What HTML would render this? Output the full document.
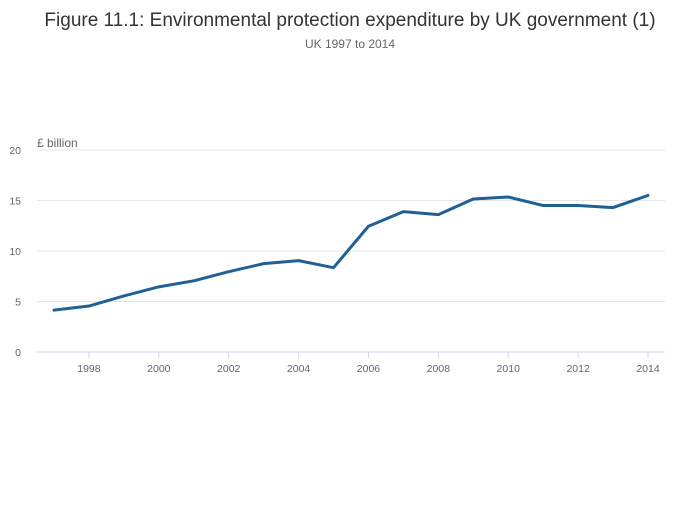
<!DOCTYPE html>
<html><head><meta charset="utf-8"><style>
body{margin:0;background:#fff;font-family:"Liberation Sans",sans-serif;}
svg text{font-family:"Liberation Sans",sans-serif;}
</style></head><body>
<svg id="chart" width="700" height="502" xmlns="http://www.w3.org/2000/svg">
<text x="350" y="26" text-anchor="middle" font-size="19" fill="#333">Figure 11.1: Environmental protection expenditure by UK government (1)</text>
<text x="350" y="48" text-anchor="middle" font-size="12" fill="#666">UK 1997 to 2014</text>
<text x="37" y="147" font-size="12" fill="#666">£ billion</text>
<g id="grid"></g><g id="xaxis"></g><g id="series"></g>
</svg>
<script>
const years=[1997,1998,1999,2000,2001,2002,2003,2004,2005,2006,2007,2008,2009,2010,2011,2012,2013,2014];
const values=[4.15,4.55,5.55,6.45,7.05,7.95,8.75,9.05,8.35,12.45,13.9,13.6,15.15,15.35,14.5,14.5,14.3,15.5];
const yTicks=[0,5,10,15,20];
const xTicks=[1998,2000,2002,2004,2006,2008,2010,2012,2014];
const NS="http://www.w3.org/2000/svg";
const x=v=>54+(v-1997)*(648-54)/17;
const y=v=>352-v*10.1;
function mk(t,a,p){const e=document.createElementNS(NS,t);for(const k in a)e.setAttribute(k,a[k]);p.appendChild(e);return e;}
const g=document.getElementById('grid');
yTicks.forEach(t=>{
 const l=mk('line',{x1:37,x2:665,y1:y(t),y2:y(t),stroke:t===0?'#ccd6eb':'#e6e6e6','stroke-width':1},g);
 
 
 const tx=mk('text',{x:21,y:y(t)+4,'text-anchor':'end','font-size':10.5,fill:'#666'},g);tx.textContent=t;
 
 
});
const xa=document.getElementById('xaxis');
xTicks.forEach(t=>{
 const l=mk('line',{x1:x(t),x2:x(t),y1:352,y2:358,stroke:'#ccd6eb'},xa);
 
 
 const tx=mk('text',{x:x(t),y:372,'text-anchor':'middle','font-size':10.5,fill:'#666'},xa);tx.textContent=t;
 
 
});
const s=document.getElementById('series');
const p=mk('polyline',{points:years.map((yr,i)=>x(yr)+','+y(values[i])).join(' '),fill:'none',stroke:'#206095','stroke-width':3,'stroke-linejoin':'round','stroke-linecap':'round'},s);


</script>
</body></html>
